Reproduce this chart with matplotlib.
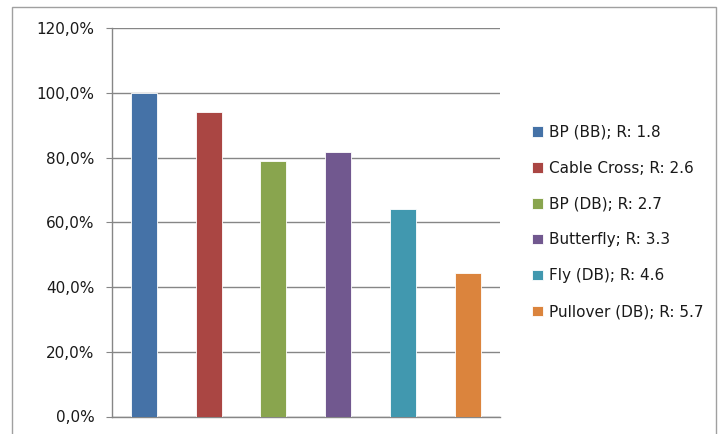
import numpy as np
import matplotlib as mpl
import matplotlib.pyplot as plt
from matplotlib.patches import Rectangle
from matplotlib.ticker import FuncFormatter

plt.rcParams['font.family'] = ['DejaVu Sans']

# series: one bar per exercise, value relative to BP (BB)
labels = ['BP (BB); R: 1.8', 'Cable Cross; R: 2.6', 'BP (DB); R: 2.7',
          'Butterfly; R: 3.3', 'Fly (DB); R: 4.6', 'Pullover (DB); R: 5.7']
values = [100.0, 94.1, 78.9, 81.7, 64.0, 44.3]
colors = ['#4572A7', '#AA4643', '#89A54E', '#71588F', '#4198AF', '#DB843D']
yticks = [0, 20, 40, 60, 80, 100, 120]

fig = plt.figure(figsize=(7.23, 4.34), dpi=100)
# chart area border
fig.patches.append(Rectangle((12 / 723, -0.01), 704 / 723, 1 - 7 / 434 + 0.01,
                             transform=fig.transFigure, fill=False,
                             edgecolor='#a0a0a0', linewidth=1.0))

ax = fig.add_axes([111.5 / 723, 1 - 416.5 / 434, 388.5 / 723, 388.5 / 434])

x = np.arange(len(values))
for i in range(len(values)):
    ax.bar(x[i], values[i], width=0.4, color=colors[i], label=labels[i],
           edgecolor='white', linewidth=0.6, zorder=3)

ax.set_xlim(-0.5, len(values) - 0.5)
ax.set_ylim(0, 120)
ax.set_yticks(yticks)
ax.yaxis.set_major_formatter(FuncFormatter(lambda v, p: f'{v:.1f}%'.replace('.', ',')))
ax.set_xticks([])
ax.grid(axis='y', color='#868686', linewidth=1.0, zorder=0)

for s in ['top', 'right']:
    ax.spines[s].set_visible(False)
for s in ['left', 'bottom']:
    ax.spines[s].set_color('#868686')
    ax.spines[s].set_linewidth(1.0)
ax.tick_params(axis='y', length=4.3, color='#868686', labelsize=11, pad=8,
               labelcolor='#1a1a1a')

ax.legend(loc='center left', bbox_to_anchor=(532 / 723, 1 - 222 / 434),
          bbox_transform=fig.transFigure, frameon=False, fontsize=11,
          handlelength=0.7, handleheight=0.7, handletextpad=0.4,
          labelspacing=1.37, borderaxespad=0, borderpad=0, labelcolor='#1a1a1a')

fig.savefig('out.png', dpi=100)
